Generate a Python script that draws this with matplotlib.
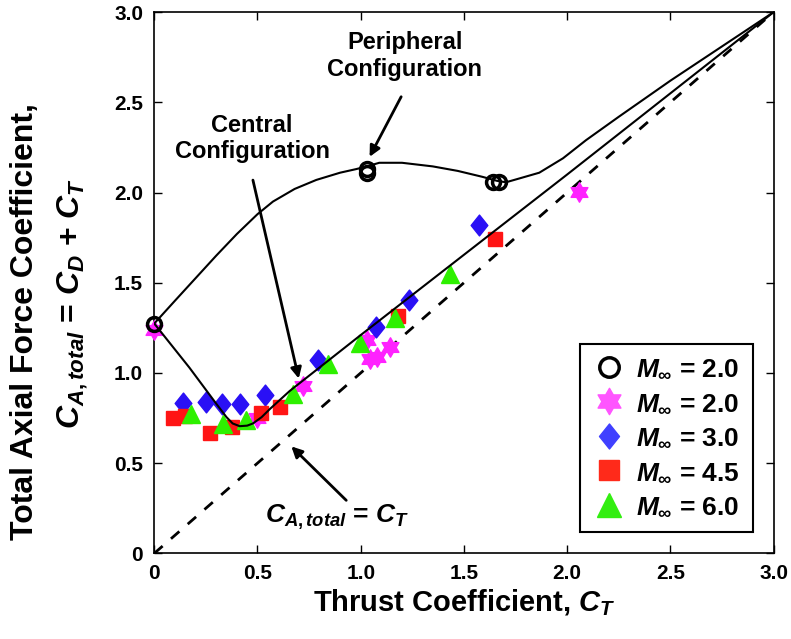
import numpy as np
import matplotlib
matplotlib.use("Agg")
import matplotlib.pyplot as plt
from matplotlib.lines import Line2D
from matplotlib.path import Path

plt.rcParams["font.family"] = ["Liberation Sans", "DejaVu Sans"]
plt.rcParams["font.weight"] = "bold"
plt.rcParams["mathtext.fontset"] = "custom"
plt.rcParams["mathtext.rm"] = "Liberation Sans:bold"
plt.rcParams["mathtext.it"] = "Liberation Sans:italic:bold"
plt.rcParams["mathtext.bf"] = "Liberation Sans:bold"

# Data
circle_x = [0.0, 1.03, 1.03, 1.64, 1.67]
circle_y = [1.27, 2.13, 2.11, 2.056, 2.056]

star_x = [0.0, 0.50, 0.72, 1.03, 1.045, 1.08, 1.14, 2.055]
star_y = [1.24, 0.75, 0.93, 1.18, 1.075, 1.09, 1.145, 2.004]

diamond_x = [0.139, 0.249, 0.330, 0.417, 0.535, 0.793, 1.075, 1.233, 1.575]
diamond_y = [0.832, 0.839, 0.826, 0.830, 0.876, 1.070, 1.255, 1.407, 1.819]

square_x = [0.091, 0.148, 0.269, 0.378, 0.519, 0.607, 1.18, 1.652]
square_y = [0.750, 0.760, 0.667, 0.700, 0.780, 0.811, 1.314, 1.741]

triangle_x = [0.18, 0.333, 0.446, 0.672, 0.841, 0.996, 1.166, 1.433]
triangle_y = [0.775, 0.719, 0.741, 0.886, 1.052, 1.168, 1.302, 1.551]

# fitted curves
periph_x = [0.0, 0.1, 0.2, 0.3, 0.4, 0.5, 0.575, 0.68, 0.785, 0.9, 0.978, 1.03,
            1.09, 1.2, 1.349, 1.47, 1.59, 1.66, 1.704, 1.768, 1.865, 1.98,
            2.091, 2.25, 2.5, 2.75, 3.0]
periph_y = [1.274, 1.40, 1.525, 1.65, 1.77, 1.88, 1.95, 2.02, 2.07, 2.11, 2.13, 2.145,
            2.165, 2.165, 2.145, 2.12, 2.087, 2.065, 2.057, 2.078, 2.11, 2.19,
            2.29, 2.42, 2.62, 2.81, 3.0]

central_x = [0.0, 0.17, 0.30, 0.35, 0.38, 0.414, 0.45, 0.478, 0.52, 0.56, 0.656, 1.0, 2.0, 3.0]
central_y = [1.274, 1.03, 0.83, 0.755, 0.72, 0.705, 0.708, 0.72, 0.755, 0.80, 0.90, 1.21, 2.10, 3.0]

ideal = [0.0, 3.0]

tick_vals = [0, 0.5, 1.0, 1.5, 2.0, 2.5, 3.0]
tick_labels = ["0", "0.5", "1.0", "1.5", "2.0", "2.5", "3.0"]
legend_labels = [r"$M_\infty$ = 2.0", r"$M_\infty$ = 2.0", r"$M_\infty$ = 3.0",
                 r"$M_\infty$ = 4.5", r"$M_\infty$ = 6.0"]

# marker shapes: six-point star (two triangles) and a slightly tall diamond
ang_out = np.deg2rad(90 + 60 * np.arange(6))
ang_in = ang_out + np.deg2rad(30)
r_in = 1 / np.sqrt(3)
verts = []
for a, b in zip(ang_out, ang_in):
    verts.append((np.cos(a), np.sin(a)))
    verts.append((r_in * np.cos(b), r_in * np.sin(b)))
verts.append(verts[0])
hexagram = Path(verts, closed=True)
tall_diamond = Path([(0, 1), (0.8, 0), (0, -1), (-0.8, 0), (0, 1)], closed=True)

c_star = "#ff22ff"
c_dia = "#2a10f5"
c_sq = "#ff1515"
c_tri = "#2ef000"

fig = plt.figure(figsize=(7.91, 6.39), dpi=100)
ax = fig.add_axes([0.195, 0.134, 0.783, 0.847])

ax.plot(ideal, ideal, color="k", lw=2, dashes=(4, 4), zorder=2)

ax.plot(star_x, star_y, ls="none", marker=hexagram, ms=14, color=c_star, zorder=3, clip_on=False)
ax.plot(diamond_x, diamond_y, ls="none", marker=tall_diamond, ms=15, color=c_dia, zorder=4)
ax.plot(square_x, square_y, ls="none", marker="s", ms=10, color=c_sq, zorder=5)
ax.plot(triangle_x, triangle_y, ls="none", marker="^", ms=13, color=c_tri, zorder=6)

ax.plot(periph_x, periph_y, color="k", lw=1.5, zorder=7)
ax.plot(central_x, central_y, color="k", lw=1.5, zorder=7)

ax.plot(circle_x, circle_y, ls="none", marker="o", ms=10, mfc="none", mec="k", mew=2.5,
        zorder=8, clip_on=False)

arrow = dict(arrowstyle="-|>", color="k", lw=2, mutation_scale=16, shrinkA=0, shrinkB=0)
ax.annotate("", xy=(1.043, 2.198), xytext=(1.196, 2.531), arrowprops=arrow)
ax.annotate("", xy=(0.70, 0.969), xytext=(0.478, 2.069), arrowprops=arrow)
ax.annotate("", xy=(0.664, 0.593), xytext=(0.93, 0.294), arrowprops=arrow)

ax.text(1.214, 2.757, "Peripheral\nConfiguration", ha="center", va="center",
        fontsize=17, fontweight="bold", linespacing=1.2)
ax.text(0.474, 2.30, "Central\nConfiguration", ha="center", va="center",
        fontsize=17, fontweight="bold", linespacing=1.2)
ax.text(0.888, 0.20, r"$C_{A,total}$ = $C_T$", ha="center", va="center", fontsize=19)

ax.set_xlim(0, 3)
ax.set_ylim(0, 3)
ax.set_xticks(tick_vals)
ax.set_xticklabels(tick_labels)
ax.set_yticks(tick_vals)
ax.set_yticklabels(tick_labels)
ax.tick_params(direction="in", top=True, right=True, length=6, width=1,
               labelsize=15, pad=8)
for lab in ax.get_xticklabels() + ax.get_yticklabels():
    lab.set_fontweight("bold")
for s in ax.spines.values():
    s.set_linewidth(1.2)

ax.set_xlabel(r"Thrust Coefficient, $C_T$", fontsize=21, fontweight="bold", labelpad=3)
fig.text(0.032, 0.497, "Total Axial Force Coefficient,", rotation=90,
         ha="center", va="center", fontsize=23, fontweight="bold")
fig.text(0.092, 0.525, r"$C_{A,total}$ = $C_D$ + $C_T$", rotation=90,
         ha="center", va="center", fontsize=23, fontweight="bold")

handles = [
    Line2D([], [], ls="none", marker="o", ms=14, mfc="none", mec="k", mew=2.5),
    Line2D([], [], ls="none", marker=hexagram, ms=19, color="#ff55ff"),
    Line2D([], [], ls="none", marker=tall_diamond, ms=18, color="#4040ff"),
    Line2D([], [], ls="none", marker="s", ms=15, color="#ff2a1a"),
    Line2D([], [], ls="none", marker="^", ms=17, color="#33ee11"),
]
leg = ax.legend(handles, legend_labels, loc="lower right", bbox_to_anchor=(0.966, 0.039),
                borderaxespad=0, fontsize=19, frameon=True, fancybox=False, framealpha=1,
                edgecolor="k", handlelength=1.2, handletextpad=0.4,
                labelspacing=0.4, borderpad=0.5)
leg.get_frame().set_linewidth(1.5)

fig.savefig("out.png", dpi=100)
